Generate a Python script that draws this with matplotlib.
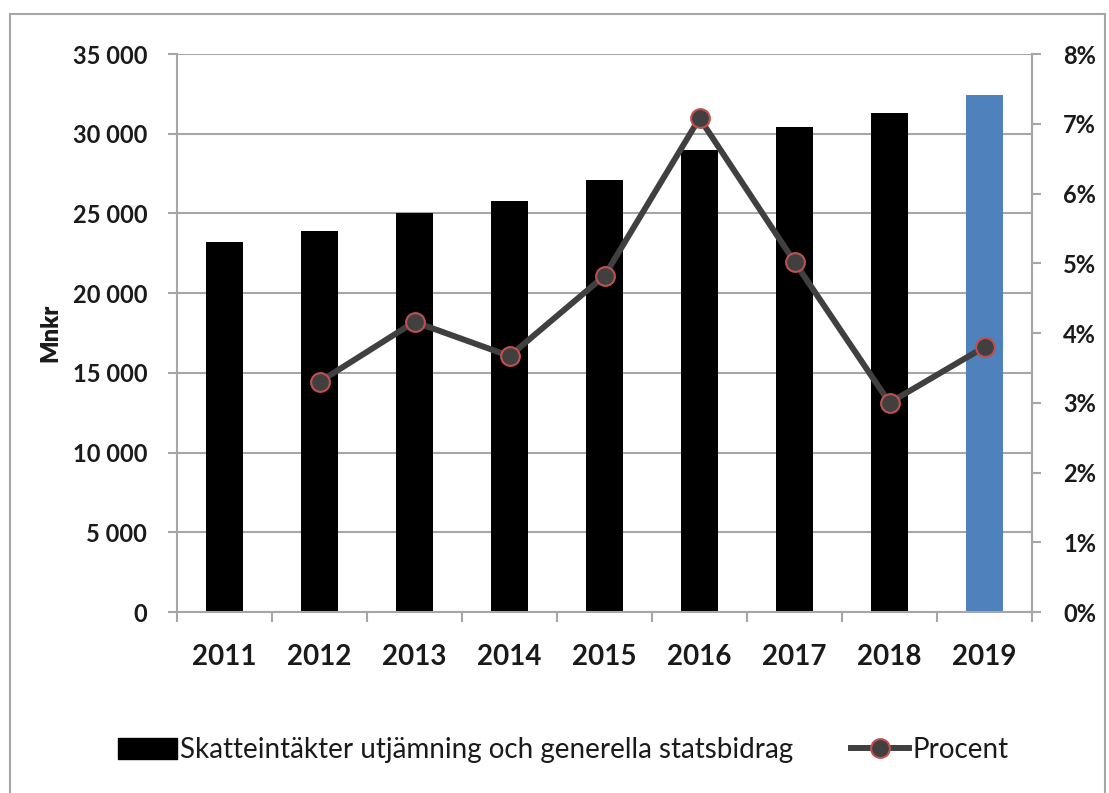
import numpy as np
import matplotlib
matplotlib.use("Agg")
import matplotlib.pyplot as plt
from matplotlib.patches import Rectangle
from matplotlib.lines import Line2D
from matplotlib.ticker import FuncFormatter

plt.rcParams['font.family'] = ['Lato', 'DejaVu Sans']

years = ['2011', '2012', '2013', '2014', '2015', '2016', '2017', '2018', '2019']
mnkr = [23200, 23900, 25000, 25800, 27100, 29000, 30400, 31300, 32400]
pct_years = ['2012', '2013', '2014', '2015', '2016', '2017', '2018', '2019']
procent = [3.30, 4.16, 3.67, 4.82, 7.08, 5.02, 3.00, 3.80]

bar_colors = ['black'] * 8 + ['#4f81bd']
grid_col = '#a6a6a6'
line_col = '#404040'

fig = plt.figure(figsize=(11.09, 7.93), dpi=100)
ax = fig.add_axes([0.1596, 0.2282, 0.771, 0.7037])

x = np.arange(len(years))
ax.bar(x, mnkr, width=0.39, color=bar_colors, zorder=2)
ax.set_xlim(-0.5, len(years) - 0.5)
ax.set_ylim(0, 35000)
ax.set_yticks(np.arange(0, 35001, 5000))
ax.yaxis.set_major_formatter(FuncFormatter(lambda v, p: f"{int(v):,}".replace(",", " ")))
ax.grid(axis='y', color=grid_col, lw=1.5, zorder=0)
ax.set_axisbelow(True)

ax.set_xticks(x)
ax.set_xticklabels(years, fontsize=20, fontweight='bold', color='#1a1a1a')
ax.set_xticks(np.arange(-0.5, len(years)), minor=True)
ax.tick_params(axis='x', which='major', length=0, pad=23)
ax.tick_params(axis='x', which='minor', length=7, width=1.5, color=grid_col)
ax.tick_params(axis='y', length=6.5, width=1.5, color=grid_col, labelsize=17, pad=15,
               labelcolor='#1a1a1a')
for t in ax.get_yticklabels():
    t.set_fontweight('bold')
ax.spines['top'].set_visible(False)
for s in ['left', 'right', 'bottom']:
    ax.spines[s].set_color(grid_col)
    ax.spines[s].set_linewidth(1.5)
ax.set_ylabel('Mnkr', fontsize=17, fontweight='heavy', labelpad=8, color='#1a1a1a')

ax2 = ax.twinx()
xp = [years.index(y) for y in pct_years]
ax2.plot(xp, procent, color=line_col, lw=4.3, marker='o', markersize=13.5,
         markerfacecolor=line_col, markeredgecolor='#c0504d', markeredgewidth=1.5, zorder=3)
ax2.set_ylim(0, 8)
ax2.set_yticks(np.arange(0, 9, 1))
ax2.yaxis.set_major_formatter(FuncFormatter(lambda v, p: f"{int(v)}%"))
ax2.tick_params(axis='y', length=6.5, width=1.5, color=grid_col, labelsize=17, pad=16,
                labelcolor='#1a1a1a')
for t in ax2.get_yticklabels():
    t.set_fontweight('bold')
for s in ['top', 'left', 'bottom']:
    ax2.spines[s].set_visible(False)
ax2.spines['right'].set_color(grid_col)
ax2.spines['right'].set_linewidth(1.5)

handles = [
    Rectangle((0, 0), 1, 1, color='black'),
    Line2D([], [], color=line_col, lw=4.3, marker='o', markersize=13.5,
           markerfacecolor=line_col, markeredgecolor='#c0504d', markeredgewidth=1.5),
]
fig.legend(handles, ['Skatteintäkter utjämning och generella statsbidrag', 'Procent'],
           loc='center', bbox_to_anchor=(0.508, 0.054), ncol=2, frameon=False,
           fontsize=20, handlelength=2.1, handleheight=0.75, handletextpad=0.1,
           columnspacing=2.1, labelcolor='#1a1a1a')

fig.patches.append(Rectangle((10 / 1109, -0.01), 1095 / 1109, 1 - 14 / 793 + 0.01,
                             transform=fig.transFigure, fill=False,
                             edgecolor=grid_col, lw=1.5))

fig.savefig('out.png', dpi=100)
